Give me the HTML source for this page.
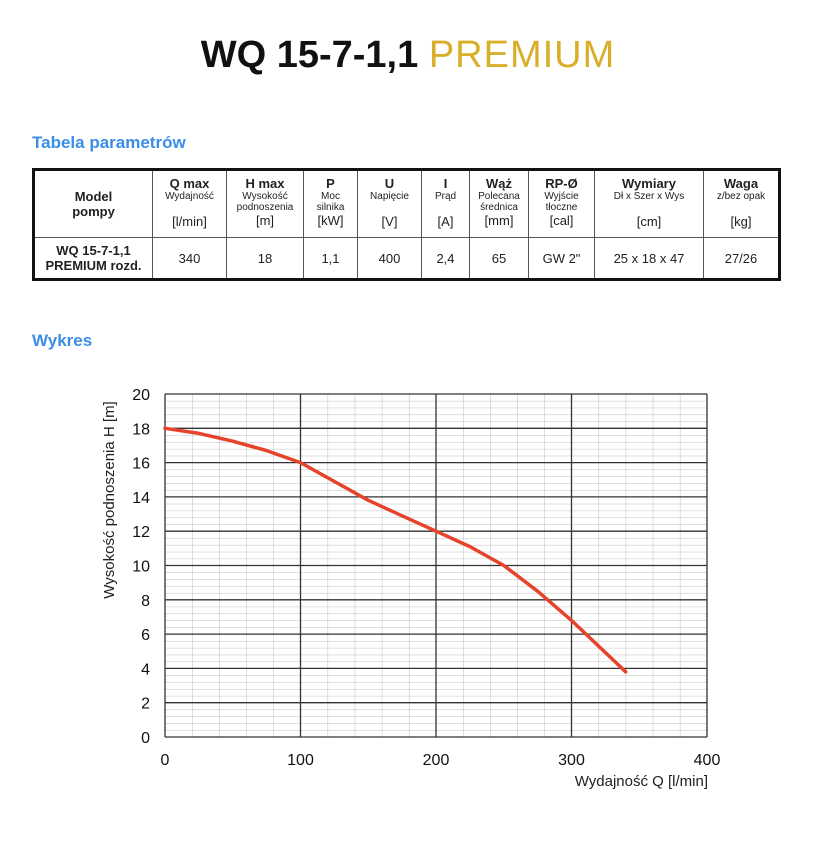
<!DOCTYPE html>
<html><head><meta charset="utf-8"><style>
body{margin:0;width:816px;height:850px;background:#fff;font-family:"Liberation Sans",sans-serif;position:relative;overflow:hidden}
.t{position:absolute;left:0;width:816px;top:34px;text-align:center;font-weight:bold;font-size:38px;color:#111}
.t span{color:#d9ae2a;font-weight:normal;letter-spacing:1px}
h3{position:absolute;margin:0;left:32px;font-size:17px;color:#3a8ee6;font-weight:bold}
table{position:absolute;left:32px;top:168px;border-collapse:collapse;border:3px solid #111;font-size:10px;color:#222}
td{border:1px solid #555;text-align:center;padding:0;vertical-align:top}
.h td{height:66px}
.d td{height:40px;vertical-align:middle;font-size:13px}
b{font-size:13px;display:block;margin-top:5px}
.u{display:block;font-size:13px;position:relative}
</style></head><body>
<div class="t">WQ 15-7-1,1 <span>PREMIUM</span></div>
<h3 style="top:133px">Tabela parametrów</h3>
<table>
<tr class="h">
<td style="width:117px;vertical-align:middle"><b style="margin:0">Model<br>pompy</b></td>
<td style="width:73px"><b>Q max</b>Wydajność<span class="u" style="top:12px">[l/min]</span></td>
<td style="width:76px"><b>H max</b>Wysokość<br>podnoszenia<span class="u">[m]</span></td>
<td style="width:53px"><b>P</b>Moc<br>silnika<span class="u">[kW]</span></td>
<td style="width:63px"><b>U</b>Napięcie<span class="u" style="top:12px">[V]</span></td>
<td style="width:47px"><b>I</b>Prąd<span class="u" style="top:12px">[A]</span></td>
<td style="width:58px"><b>Wąż</b>Polecana<br>średnica<span class="u">[mm]</span></td>
<td style="width:65px"><b>RP-Ø</b>Wyjście<br>tłoczne<span class="u">[cal]</span></td>
<td style="width:108px"><b>Wymiary</b>Dł x Szer x Wys<span class="u" style="top:12px">[cm]</span></td>
<td style="width:74px"><b>Waga</b>z/bez opak<span class="u" style="top:12px">[kg]</span></td>
</tr>
<tr class="d"><td style="font-weight:bold">WQ 15-7-1,1<br>PREMIUM rozd.</td><td>340</td><td>18</td><td>1,1</td><td>400</td><td>2,4</td><td>65</td><td>GW 2"</td><td>25 x 18 x 47</td><td>27/26</td></tr>
</table>
<h3 style="top:331px">Wykres</h3>
<svg width="816" height="850" style="position:absolute;left:0;top:0" font-family="Liberation Sans, sans-serif">
<defs>
<pattern id="p" x="165" y="394" width="27.1" height="6.86" patternUnits="userSpaceOnUse">
<line x1="0" y1="0" x2="27.1" y2="0" stroke="#aaa" stroke-width="0.8"/>
<line x1="0" y1="0" x2="0" y2="6.86" stroke="#aaa" stroke-width="0.8"/>
</pattern>
</defs>
<rect x="165" y="394" width="542" height="343" fill="url(#p)"/>
<g stroke="#333" stroke-width="1.3">
<line x1="165" x2="707" y1="737" y2="737"/><line x1="165" x2="707" y1="702.7" y2="702.7"/><line x1="165" x2="707" y1="668.4" y2="668.4"/><line x1="165" x2="707" y1="634.1" y2="634.1"/><line x1="165" x2="707" y1="599.8" y2="599.8"/><line x1="165" x2="707" y1="565.5" y2="565.5"/><line x1="165" x2="707" y1="531.2" y2="531.2"/><line x1="165" x2="707" y1="496.9" y2="496.9"/><line x1="165" x2="707" y1="462.6" y2="462.6"/><line x1="165" x2="707" y1="428.3" y2="428.3"/><line x1="165" x2="707" y1="394" y2="394"/>
<line y1="394" y2="737" x1="165" x2="165"/><line y1="394" y2="737" x1="300.5" x2="300.5"/><line y1="394" y2="737" x1="436" x2="436"/><line y1="394" y2="737" x1="571.5" x2="571.5"/><line y1="394" y2="737" x1="707" x2="707"/>
</g>
<g font-size="16" fill="#111" text-anchor="middle">
<text x="165" y="765">0</text><text x="300.5" y="765">100</text><text x="436" y="765">200</text><text x="571.5" y="765">300</text><text x="707" y="765">400</text>
</g>
<g font-size="16" fill="#111" text-anchor="end">
<text x="150" y="743">0</text><text x="150" y="708.7">2</text><text x="150" y="674.4">4</text><text x="150" y="640.1">6</text><text x="150" y="605.8">8</text><text x="150" y="571.5">10</text><text x="150" y="537.2">12</text><text x="150" y="502.9">14</text><text x="150" y="468.6">16</text><text x="150" y="434.3">18</text><text x="150" y="400">20</text>
</g>
<polyline fill="none" stroke="#e5432b" stroke-width="3.5" stroke-linecap="round" stroke-linejoin="round" points="165,428.3 198.9,433.4 232.8,441.2 266.6,450.6 300.5,462.6 334.4,481.5 368.3,500.3 402.1,515.8 436,531.2 469.9,546.6 503.8,565.5 537.6,591.2 571.5,620.4 598.6,646.1 625.7,671.8"/>
<text x="708" y="786" font-size="15" text-anchor="end" fill="#222">Wydajność Q [l/min]</text>
<text transform="translate(114,500) rotate(-90)" font-size="15" text-anchor="middle" fill="#222">Wysokość podnoszenia H [m]</text>
</svg>
</body></html>
